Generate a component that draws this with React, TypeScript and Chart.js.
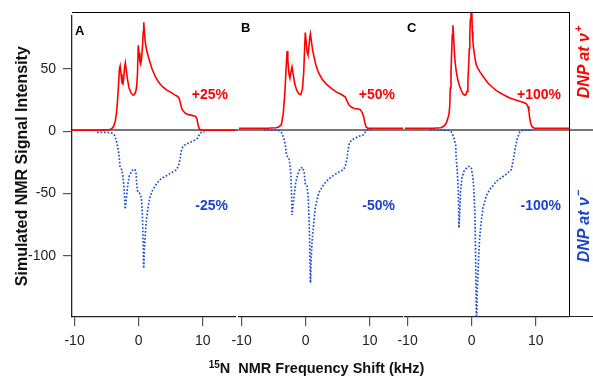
import React, { useEffect, useRef } from 'react';
import { Chart, registerables } from 'chart.js';

Chart.register(...registerables);

const FONT = '"Liberation Sans", Arial, Helvetica, sans-serif';
const RED = '#ff0000';
const BLUE = '#1f4fd6';
const BLUE_TEXT = '#1a44cc';

const xTicks = [-10, 0, 10];
const yTicks = [-100, -50, 0, 50];
const panelLetters = ['A', 'B', 'C'];
const posLabels = ['+25%', '+50%', '+100%'];
const negLabels = ['-25%', '-50%', '-100%'];

// Panel A
const redAX = [-10.4, -6, -4.6, -4.2, -3.9, -3.65, -3.45, -3.3, -3.15, -3.0, -2.88, -2.75, -2.6, -2.45, -2.3, -2.18, -2.07, -1.95, -1.75, -1.5, -1.2, -0.9, -0.65, -0.45, -0.3, -0.18, -0.06, 0.06, 0.2, 0.32, 0.45, 0.6, 0.72, 0.8, 0.9, 1.05, 1.25, 1.5, 1.8, 2.1, 2.6, 3.1, 3.7, 4.4, 5.1, 5.7, 6.1, 6.35, 6.55, 6.75, 7.0, 7.3, 7.7, 8.3, 8.9, 9.1, 9.25, 9.4, 9.6, 10.0, 15.2];
const redAY = [0.8, 0.8, 1.2, 2, 4, 8, 15, 24, 36, 50, 52.5, 46, 39, 38, 44, 52, 55, 50, 42, 35, 31, 29, 29.5, 32, 36, 46, 69, 63, 56, 54, 58, 68, 80, 87.5, 80, 71, 65, 60, 55, 50, 44, 39.5, 36, 33, 31, 29, 28, 26, 22, 18, 16, 14.5, 13.5, 12.8, 12, 10, 6, 3, 1.3, 0.8, 0.8];
const blueAX = [-6.5, -4.6, -4.1, -3.8, -3.5, -3.25, -3.05, -2.9, -2.75, -2.6, -2.45, -2.3, -2.18, -2.09, -2.0, -1.88, -1.7, -1.46, -1.1, -0.8, -0.55, -0.4, -0.25, -0.1, 0.1, 0.3, 0.45, 0.58, 0.68, 0.75, 0.8, 0.88, 0.98, 1.1, 1.25, 1.5, 1.77, 2.2, 2.8, 3.5, 4.4, 5.2, 5.9, 6.2, 6.45, 6.65, 6.9, 7.2, 7.6, 8.2, 8.8, 9.2, 9.45, 9.7, 10.3];
const blueAY = [-0.8, -1, -1.5, -3, -7, -13, -20, -28, -30, -31, -36, -44, -55, -62.5, -58, -52, -43, -36, -32, -30.3, -30.8, -34, -46, -49, -49.5, -51, -55, -66, -85, -103, -110, -96, -88, -78, -70, -60, -53, -47, -42, -38, -35.5, -33, -31, -28, -23, -16, -12.5, -11, -10, -8.5, -7, -5.5, -3, -1, -0.8];

// Panel B
const redBX = [-10.4, -6, -4.6, -4.2, -3.8, -3.5, -3.25, -3.05, -2.9, -2.78, -2.6, -2.45, -2.3, -2.12, -1.95, -1.7, -1.4, -1.05, -0.75, -0.5, -0.3, -0.15, -0.05, 0.08, 0.25, 0.37, 0.5, 0.65, 0.75, 0.9, 1.05, 1.25, 1.6, 2.03, 2.6, 3.34, 4.1, 4.9, 5.6, 6.2, 6.5, 6.8, 7.14, 7.6, 8.2, 8.55, 8.85, 9.06, 9.25, 9.44, 9.7, 10.0, 15.2];
const redBY = [0.8, 0.8, 1.2, 1.8, 3.5, 12, 28, 48, 62, 55, 44, 40.6, 45, 49.4, 44, 36, 31, 28, 27.4, 32, 45, 65, 76.8, 70, 61, 59, 64, 73, 75.8, 70, 64, 59, 51, 44.6, 39.5, 35.3, 32, 29.2, 27.5, 25.5, 22, 19, 17.6, 16.5, 16, 15.5, 13, 10, 5, 1.7, 0.8, 0.8, 0.8];
const blueBX = [-6.5, -4.6, -4.2, -3.8, -3.4, -3.15, -3.0, -2.8, -2.6, -2.45, -2.3, -2.2, -2.12, -2.0, -1.87, -1.6, -1.25, -0.85, -0.46, -0.2, -0.05, 0.21, 0.38, 0.47, 0.56, 0.63, 0.7, 0.76, 0.85, 1.0, 1.25, 1.5, 2.03, 2.8, 3.5, 4.1, 5.0, 5.94, 6.2, 6.47, 6.65, 6.83, 7.2, 7.77, 8.4, 9.06, 9.35, 9.6, 10.3];
const blueBY = [-0.8, -0.8, -1, -2.5, -7, -13, -20, -22, -23, -28, -36, -50, -68, -62, -57, -44, -36, -31, -30.3, -35, -44, -45, -52, -62, -75, -89, -110, -122, -105, -89, -76, -62.5, -50.6, -44, -40, -37.5, -34.5, -32, -29, -23, -16, -11, -8.5, -7, -5.5, -4.4, -2, -0.8, -0.8];

// Panel C
const redCX = [-10.4, -6, -4.8, -4.3, -3.96, -3.75, -3.55, -3.42, -3.33, -3.22, -3.13, -3.02, -2.92, -2.82, -2.7, -2.55, -2.4, -2.15, -1.88, -1.6, -1.35, -1.1, -0.9, -0.72, -0.58, -0.47, -0.36, -0.28, -0.2, -0.1, 0.0, 0.1, 0.2, 0.31, 0.5, 0.73, 1.0, 1.25, 1.77, 2.55, 3.2, 3.86, 4.9, 5.94, 7.0, 8.0, 8.5, 8.8, 8.95, 9.06, 9.2, 9.33, 9.5, 9.8, 10.2, 15.2];
const redCY = [0.8, 0.8, 1.2, 2.5, 4.9, 8, 11.5, 18, 32.7, 46, 59, 75, 82.4, 74, 61.7, 52, 45.9, 39, 34, 30.5, 28, 27, 27.3, 30, 38, 50, 64, 76, 87, 98, 100, 77.6, 70, 64, 57, 51, 48, 45.9, 42, 36.7, 33.5, 30.6, 27.5, 24.7, 23, 21.3, 20.5, 18, 14, 8.9, 5, 3, 1.5, 0.8, 0.8, 0.8];
const blueCX = [-6.5, -4.5, -3.6, -3.2, -2.96, -2.7, -2.5, -2.4, -2.24, -2.08, -2.02, -1.98, -1.87, -1.72, -1.51, -1.2, -0.73, -0.42, -0.05, 0.21, 0.36, 0.52, 0.63, 0.7, 0.75, 0.8, 0.89, 1.09, 1.25, 1.51, 1.77, 2.29, 2.8, 3.86, 5.42, 6.2, 6.46, 6.72, 7.08, 7.5, 8.0, 9.5];
const blueCY = [-0.8, -0.8, -1, -2, -4.3, -8, -12.3, -23, -33.5, -49, -65, -78.4, -68, -49, -38.7, -33.5, -30.3, -29.5, -30.8, -38.7, -49, -68, -102, -135, -155, -150, -128.7, -102, -86, -73, -62.5, -53, -48, -41.4, -35.6, -32, -25.5, -17.6, -8.3, -2.3, -0.8, -0.8];

const redX = [redAX, redBX, redCX];
const redY = [redAY, redBY, redCY];
const blueX = [blueAX, blueBX, blueCX];
const blueY = [blueAY, blueBY, blueCY];

const X_MIN = -10.4;
const X_MAX = 15.2;
const Y_MIN = -149;
const Y_MAX = 93;

const CANVAS_H = 377;
const AREA_TOP = 12;
const X_AXIS_H = 60;
const PAD = 15;
const PANEL_W = 164;
const Y_AXIS_W = 72;
const panelLefts = [72, 239, 405];

const toPoints = (xs: number[], ys: number[]) => xs.map((x, i) => ({ x, y: ys[i] }));

function Panel({ idx }: { idx: number }) {
  const ref = useRef<HTMLCanvasElement | null>(null);
  const first = idx === 0;
  const canvasLeft = first ? 0 : panelLefts[idx] - PAD;
  const canvasW = first ? Y_AXIS_W + PANEL_W + PAD : PANEL_W + 2 * PAD;

  useEffect(() => {
    if (!ref.current) return;
    const labelPlugin = {
      id: 'panelLabels' + idx,
      afterDatasetsDraw(chart: any) {
        const { ctx, chartArea } = chart;
        ctx.save();
        ctx.textBaseline = 'alphabetic';
        ctx.fillStyle = '#000';
        ctx.font = `bold 13px ${FONT}`;
        ctx.textAlign = 'left';
        ctx.fillText(panelLetters[idx], chartArea.left + (first ? 3 : 2), chartArea.top + 20);
        ctx.font = `bold 14px ${FONT}`;
        ctx.textAlign = 'right';
        ctx.fillStyle = RED;
        ctx.fillText(posLabels[idx], chartArea.right - 8, 99);
        ctx.fillStyle = BLUE_TEXT;
        ctx.fillText(negLabels[idx], chartArea.right - 8, 210);
        ctx.restore();
      },
    };
    const chart = new Chart(ref.current, {
      type: 'line',
      data: {
        datasets: [
          {
            data: toPoints(redX[idx], redY[idx]),
            borderColor: RED,
            borderWidth: 1.6,
            pointRadius: 0,
            tension: 0,
            fill: false,
          },
          {
            data: toPoints(blueX[idx], blueY[idx]),
            borderColor: BLUE,
            borderWidth: 1.7,
            borderDash: [1.7, 1.8],
            pointRadius: 0,
            tension: 0,
            fill: false,
          },
        ],
      },
      options: {
        animation: false,
        responsive: false,
        maintainAspectRatio: false,
        events: [],
        layout: { padding: { top: AREA_TOP, bottom: 0, left: first ? 0 : PAD, right: PAD } },
        plugins: { legend: { display: false }, tooltip: { enabled: false }, title: { display: false } },
        scales: {
          x: {
            type: 'linear',
            min: X_MIN,
            max: X_MAX,
            afterBuildTicks: (s: any) => {
              s.ticks = xTicks.map((v) => ({ value: v }));
            },
            afterFit: (s: any) => {
              s.height = X_AXIS_H;
            },
            grid: { drawOnChartArea: false, drawTicks: true, tickLength: 9, color: '#555', lineWidth: 1.2 },
            border: { display: true, color: '#222', width: 1.3 },
            ticks: { font: { size: 14, family: FONT }, color: '#222', padding: 7, maxRotation: 0, autoSkip: false },
          },
          y: {
            type: 'linear',
            display: first,
            min: Y_MIN,
            max: Y_MAX,
            afterBuildTicks: (s: any) => {
              s.ticks = yTicks.map((v) => ({ value: v }));
            },
            afterFit: (s: any) => {
              s.width = first ? Y_AXIS_W : 0;
            },
            grid: { drawOnChartArea: false, drawTicks: true, tickLength: 9, color: '#555', lineWidth: 1.2 },
            border: { display: true, color: '#222', width: 1.3 },
            ticks: { font: { size: 14, family: FONT }, color: '#222', padding: 7 },
            title: {
              display: true,
              text: 'Simulated NMR Signal Intensity',
              font: { size: 16, weight: 'bold', family: FONT },
              color: '#111',
              padding: { top: 12.5, bottom: 0 },
            },
          },
        },
      },
      plugins: [labelPlugin],
    } as any);
    return () => chart.destroy();
  }, [idx]);

  return (
    <canvas
      ref={ref}
      width={canvasW}
      height={CANVAS_H}
      style={{ position: 'absolute', left: canvasLeft, top: 0, width: canvasW, height: CANVAS_H }}
    />
  );
}

export default function App() {
  const rightLabel: React.CSSProperties = {
    position: 'absolute',
    left: 584,
    transform: 'translate(-50%, -50%) rotate(-90deg)',
    font: `italic bold 16px ${FONT}`,
    whiteSpace: 'nowrap',
    lineHeight: '18px',
  };
  return (
    <div style={{ position: 'absolute', left: 0, top: 0, width: 593, height: 377, background: '#fff', overflow: 'hidden', fontFamily: FONT }}>
      {/* zero line */}
      <div style={{ position: 'absolute', left: 72, top: 128.5, width: 521, height: 2, background: '#777' }} />
      <Panel idx={0} />
      <Panel idx={1} />
      <Panel idx={2} />
      {/* top frame */}
      <div style={{ position: 'absolute', left: 72, top: 12, width: 498, height: 1, background: '#000' }} />
      {/* right frame */}
      <div style={{ position: 'absolute', left: 569, top: 12, width: 1, height: 305, background: '#000' }} />
      {/* bottom extension */}
      <div style={{ position: 'absolute', left: 569, top: 316, width: 24, height: 1, background: '#222' }} />
      {/* right labels */}
      <div style={{ ...rightLabel, top: 62, color: RED }}>
        DNP at ν<span style={{ fontSize: 11, position: 'relative', top: -7, marginLeft: 1 }}>+</span>
      </div>
      <div style={{ ...rightLabel, top: 226, color: BLUE_TEXT }}>
        DNP at ν<span style={{ fontSize: 11, position: 'relative', top: -7, marginLeft: 1 }}>−</span>
      </div>
      {/* x axis title */}
      <div
        style={{
          position: 'absolute',
          left: 316.5,
          top: 360,
          transform: 'translateX(-50%)',
          font: `bold 14.5px ${FONT}`,
          lineHeight: '17px',
          whiteSpace: 'pre',
          color: '#111',
        }}
      >
        <span style={{ fontSize: 10, position: 'relative', top: -5 }}>15</span>N  NMR Frequency Shift (kHz)
      </div>
    </div>
  );
}
